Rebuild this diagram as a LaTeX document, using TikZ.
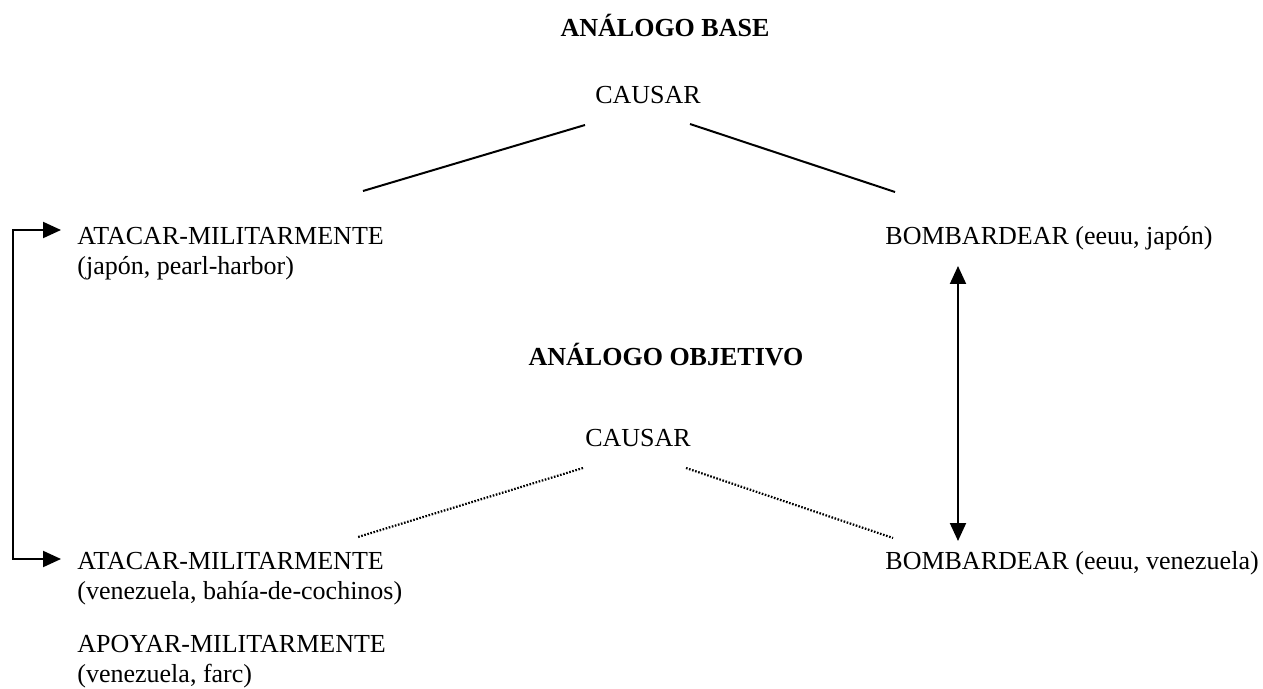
\documentclass[tikz,border=0pt]{standalone}
\usepackage{fontspec}
\setmainfont{Liberation Serif}
\usetikzlibrary{arrows.meta}
\begin{document}
\begin{tikzpicture}[x=0.5pt,y=-0.5pt,
  txt/.style={inner sep=0pt,anchor=base west,align=left,font=\fontsize{13}{15}\selectfont},
  ttl/.style={inner sep=0pt,anchor=base,font=\fontsize{13}{15}\selectfont\bfseries},
  ctr/.style={inner sep=0pt,anchor=base,font=\fontsize{13}{15}\selectfont},
  link/.style={line width=1pt},
  dotlink/.style={line width=1.1pt,dash pattern=on 0.8pt off 0.8pt},
  arr/.style={line width=1pt,{Triangle[length=9pt,width=8pt]}-{Triangle[length=9pt,width=8pt]}}]
\useasboundingbox (0,0) rectangle (1263,689);
\node[ttl] (tbase) at (665,37) {ANÁLOGO BASE};
\node[ctr] (c1) at (648,104) {CAUSAR};
\node[txt] (a1) at (77,275) {ATACAR-MILITARMENTE\\(japón, pearl-harbor)};
\node[txt] (b1) at (885,245) {BOMBARDEAR (eeuu, japón)};
\node[ttl] (tobj) at (666,366) {ANÁLOGO OBJETIVO};
\node[ctr] (c2) at (638,446) {CAUSAR};
\node[txt] (a2) at (77,599) {ATACAR-MILITARMENTE\\(venezuela, bahía-de-cochinos)};
\node[txt] (p2) at (77,682) {APOYAR-MILITARMENTE\\(venezuela, farc)};
\node[txt] (b2) at (885,569) {BOMBARDEAR (eeuu, venezuela)};
\coordinate (c1l) at (585,125);
\coordinate (c1r) at (690,124);
\coordinate (a1t) at (363,191);
\coordinate (b1t) at (895,192);
\coordinate (c2l) at (583,468);
\coordinate (c2r) at (686,468);
\coordinate (a2t) at (358,537);
\coordinate (b2t) at (893,538);
\draw[link] (c1l) -- (a1t);
\draw[link] (c1r) -- (b1t);
\draw[dotlink] (c2l) -- (a2t);
\draw[dotlink] (c2r) -- (b2t);
\coordinate (v1) at (958,266);
\coordinate (v2) at (958,541);
\draw[arr] (v1) -- (v2);
\coordinate (ta) at (61,230);
\coordinate (tb) at (61,559);
\coordinate (lx) at (13,0);
\draw[arr] (ta) -- (ta -| lx) -- (tb -| lx) -- (tb);
\end{tikzpicture}
\end{document}
